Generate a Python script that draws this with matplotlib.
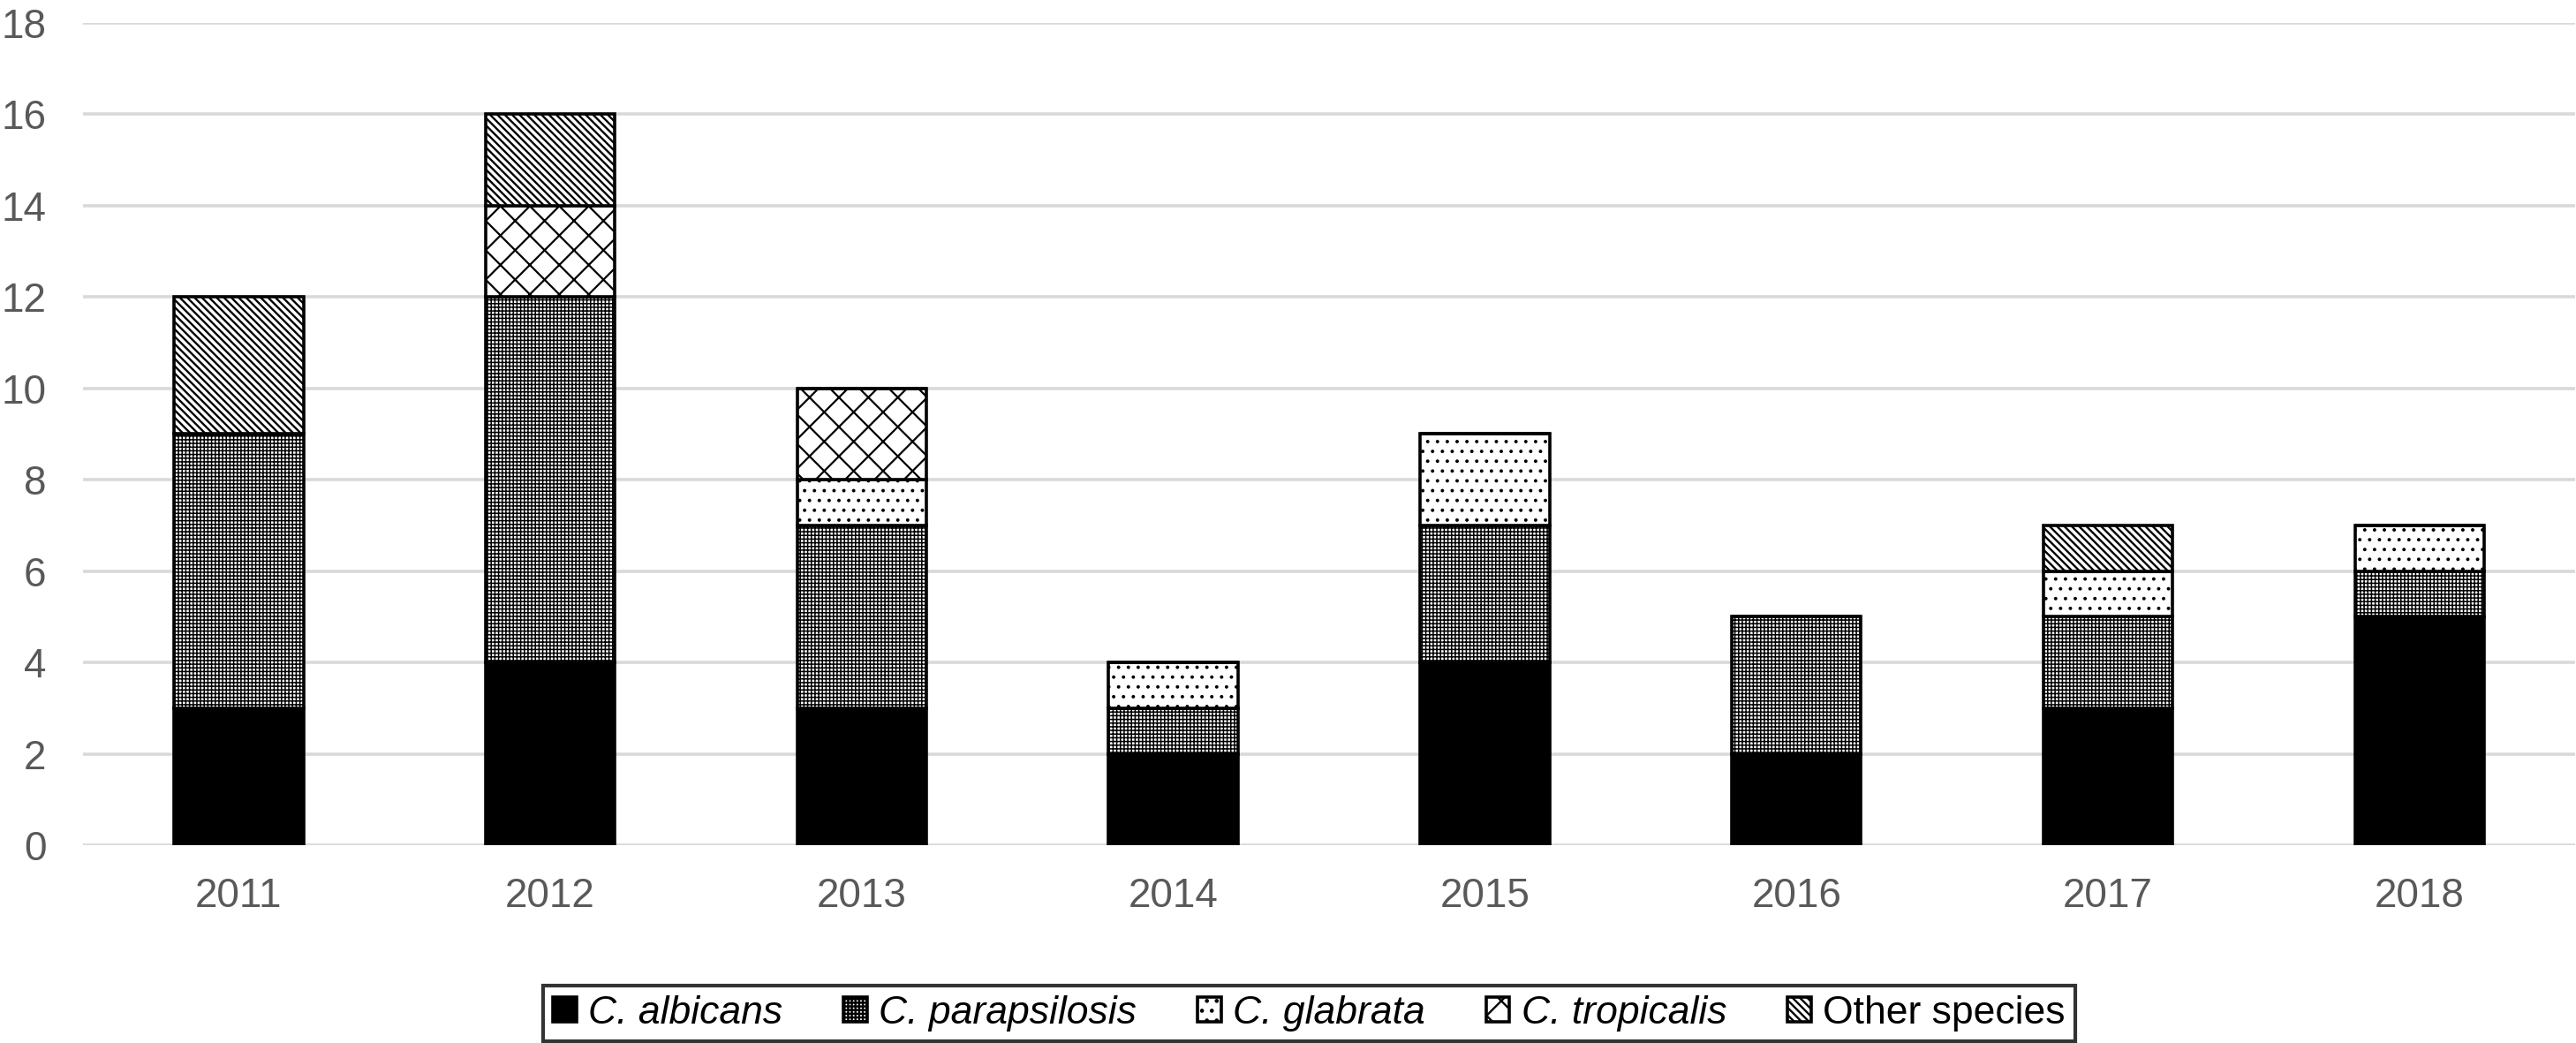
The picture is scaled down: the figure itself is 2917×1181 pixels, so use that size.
import matplotlib
matplotlib.use("Agg")
import matplotlib.pyplot as plt
import numpy as np

years = ["2011", "2012", "2013", "2014", "2015", "2016", "2017", "2018"]
species = ["C. albicans", "C. parapsilosis", "C. glabrata", "C. tropicalis", "Other species"]
albicans = [3, 4, 3, 2, 4, 2, 3, 5]
parapsilosis = [6, 8, 4, 1, 3, 3, 2, 1]
glabrata = [0, 0, 1, 1, 2, 0, 1, 1]
tropicalis = [0, 2, 2, 0, 0, 0, 0, 0]
other = [3, 2, 0, 0, 0, 0, 1, 0]
yticks = [0, 2, 4, 6, 8, 10, 12, 14, 16, 18]

series = [albicans, parapsilosis, glabrata, tropicalis, other]
faces = ["black", "white", "white", "white", "white"]
hatches = [None, "+" * 8, "." * 3, "xx", "\\" * 8]
hatch_lws = [1.0, 0.55, 0.6, 0.8, 0.85]

plt.rcParams["font.family"] = ["Liberation Sans", "DejaVu Sans"]
plt.rcParams["hatch.color"] = "black"

fig = plt.figure(figsize=(14.585, 5.905), dpi=200)
ax = fig.add_axes([0.0322, 0.1897, 0.9675, 0.9780 - 0.1897])

x = np.arange(len(years))
bottom = np.zeros(len(years))
handles = []
for vals, fc, h, hlw, name in zip(series, faces, hatches, hatch_lws, species):
    plt.rcParams["hatch.linewidth"] = hlw
    bars = ax.bar(x, vals, width=0.415, bottom=bottom, color=fc,
                  edgecolor="black", linewidth=1.3, hatch=h, label=name, zorder=3)
    for b in bars:
        if hasattr(b, "set_hatch_linewidth"):
            b.set_hatch_linewidth(hlw)
    handles.append(bars)
    bottom += np.array(vals)

ax.set_xlim(-0.5, len(years) - 0.5)
ax.set_ylim(0, 18)
ax.set_yticks(yticks)
ax.set_xticks(x)
ax.set_xticklabels(years)
for s in ax.spines.values():
    s.set_visible(False)
ax.tick_params(axis="both", length=0, labelsize=16.5, labelcolor="#595959")
ax.tick_params(axis="y", pad=15)
ax.tick_params(axis="x", pad=13)
ax.yaxis.grid(True, color="#d9d9d9", linewidth=1.3, zorder=0)
ax.set_axisbelow(True)

leg = fig.legend(handles=handles, labels=species, loc="center",
                 bbox_to_anchor=(0.5082, 0.0284), ncol=5, frameon=True,
                 fancybox=False, fontsize=16, handlelength=0.6, handleheight=0.6,
                 handletextpad=0.3, columnspacing=1.55, borderpad=0.25,
                 borderaxespad=0)
leg.get_frame().set_edgecolor("black")
leg.get_frame().set_linewidth(1.5)
for t in leg.get_texts():
    if t.get_text().startswith("C."):
        t.set_fontstyle("italic")

fig.savefig("out.png", dpi=200)
